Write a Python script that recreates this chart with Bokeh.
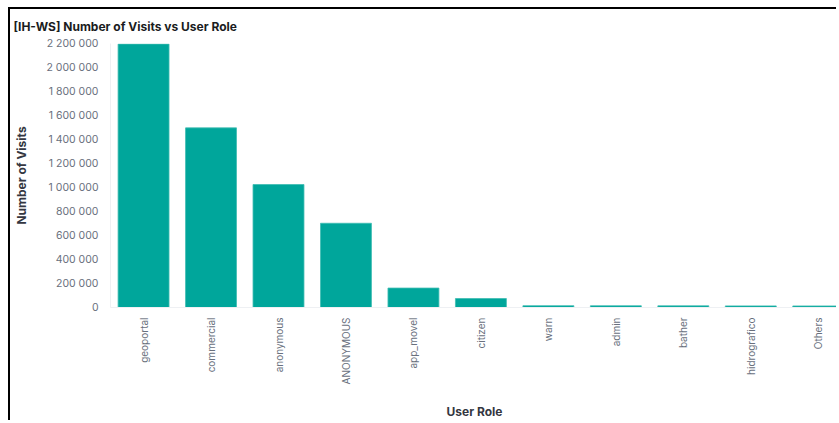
import math
from bokeh.plotting import figure
from bokeh.models import Range1d, FixedTicker, CustomJSTickFormatter
from bokeh.embed import file_html
from bokeh.resources import INLINE

roles = ["geoportal", "commercial", "anonymous", "ANONYMOUS", "app_movel", "citizen",
         "warn", "admin", "bather", "hidrografico", "Others"]
visits = [2195000, 1497000, 1025000, 702000, 162000, 75000, 15000, 14500, 14000, 13500, 13000]
y_ticks = [0, 200000, 400000, 600000, 800000, 1000000, 1200000, 1400000,
           1600000, 1800000, 2000000, 2200000]

xs = list(range(len(roles)))

p = figure(width=828, height=413, output_backend="svg", toolbar_location=None,
           x_range=Range1d(-0.49, 10.30), y_range=Range1d(0, 2200000),
           min_border_left=100, min_border_top=34, min_border_bottom=100,
           min_border_right=0)
p.styles = {"border-top": "2px solid #000", "border-left": "2px solid #000",
            "margin-left": "8px", "margin-top": "7px"}

p.vbar(x=xs, top=visits, width=0.755, fill_color="#00A69B", line_color="#3fbdb3",
       line_width=0.8)

p.title.text = "[IH-WS] Number of Visits vs User Role"
p.title.text_font = "Inter"
p.title.text_font_size = "12px"
p.title.text_font_style = "bold"
p.title.text_color = "#1a1c21"
p.title.align = "left"
p.title.vertical_align = "top"
p.title.offset = -97
p.title.standoff = 16

p.xgrid.visible = False
p.ygrid.visible = False
p.outline_line_color = None

ax = p.xaxis[0]
ax.ticker = FixedTicker(ticks=xs)
ax.major_label_overrides = {i: r for i, r in enumerate(roles)}
ax.major_label_orientation = math.pi / 2
ax.major_label_text_font = "Inter"
ax.major_label_text_font_size = "10px"
ax.major_label_text_color = "#69707d"
ax.major_label_standoff = 4
ax.major_tick_line_color = None
ax.minor_tick_line_color = None
ax.axis_line_color = "#eef0f3"
ax.axis_label = "User Role"
ax.axis_label_text_font = "Inter"
ax.axis_label_text_font_size = "12px"
ax.axis_label_text_font_style = "bold"
ax.axis_label_text_color = "#343741"
ax.axis_label_text_line_height = 1.0
ax.axis_label_standoff = 17

ay = p.yaxis[0]
ay.ticker = FixedTicker(ticks=y_ticks)
ay.formatter = CustomJSTickFormatter(code="""
return Math.round(tick).toString().replace(/\\B(?=(\\d{3})+(?!\\d))/g, " ");
""")
ay.major_label_text_font = "Inter"
ay.major_label_text_font_size = "10.5px"
ay.major_label_text_color = "#69707d"
ay.major_label_standoff = 6
ay.major_tick_line_color = None
ay.minor_tick_line_color = None
ay.axis_line_color = "#eef0f3"
ay.axis_label = "Number of Visits"
ay.axis_label_text_font = "Inter"
ay.axis_label_text_font_size = "12px"
ay.axis_label_text_font_style = "bold"
ay.axis_label_text_color = "#343741"
ay.axis_label_standoff = 14

open("out.html", "w").write(file_html(p, INLINE))
